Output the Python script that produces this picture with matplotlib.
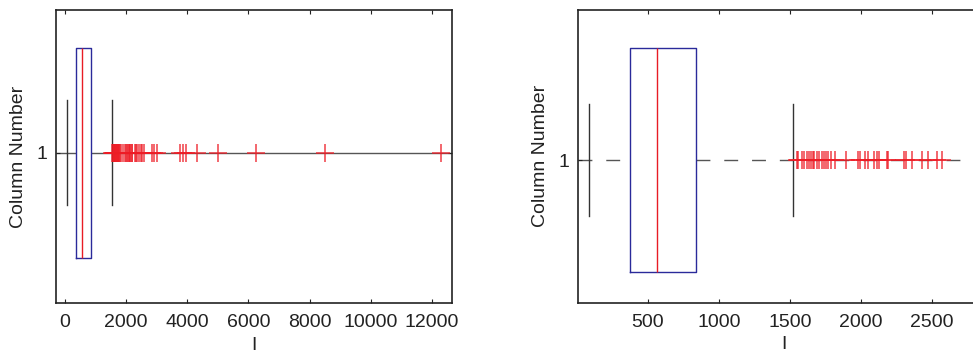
import matplotlib
matplotlib.use('Agg')
import matplotlib.pyplot as plt

plt.rcParams['font.family'] = ['Liberation Sans', 'DejaVu Sans']
plt.rcParams['font.size'] = 14

# box statistics
whis_lo = 82
q1 = 371
med = 566
q3 = 836
whis_hi = 1521

# outliers beyond the upper whisker
out_near = [1547, 1558, 1587, 1601, 1618, 1634, 1646, 1660, 1671, 1688, 1706,
            1723, 1739, 1751, 1770, 1787, 1817, 1894, 1977, 1993, 2028, 2051,
            2092, 2111, 2127, 2181, 2192, 2303, 2315, 2357, 2427, 2474, 2533,
            2568]
out_far = [2835, 2910, 2999, 3761, 3849, 3957, 4307, 4993, 6236, 8512, 12286]

left_ticks = [0, 2000, 4000, 6000, 8000, 10000, 12000]
right_ticks = [500, 1000, 1500, 2000, 2500]

W, H = 973, 353
fig = plt.figure(figsize=(W / 100, H / 100), dpi=100)

ax1 = fig.add_axes([56 / W, 50 / H, 396 / W, 293 / H])
ax2 = fig.add_axes([578 / W, 50.5 / H, 411 / W, 292.4 / H])


def draw(ax, fliers, xlim, ylim, width, capw, ls):
    stats = [dict(whislo=whis_lo, q1=q1, med=med, q3=q3, whishi=whis_hi,
                  fliers=fliers)]
    ax.bxp(stats, positions=[1], widths=width, capwidths=capw,
           orientation='horizontal', showfliers=True,
           boxprops=dict(color='#2a2a9a', lw=1),
           medianprops=dict(color='#e81c24', lw=1),
           whiskerprops=dict(lw=0),
           capprops=dict(color='#333333', lw=1),
           flierprops=dict(marker='+', markeredgecolor='#ee1c25',
                           markersize=13, markeredgewidth=1.1, alpha=0.85,
                           zorder=5))
    ax.hlines([1], xlim[0], q1, colors='#555555', lw=1, linestyles=ls, zorder=1)
    ax.hlines([1], q3, xlim[1], colors='#555555', lw=1, linestyles=ls, zorder=1)
    ax.set_xlim(xlim)
    ax.set_ylim(ylim)
    ax.set_yticks([1])
    ax.set_yticklabels(['1'])
    ax.set_ylabel('Column Number', labelpad=7, color='#222222')
    ax.set_xlabel('I', labelpad=4, color='#222222')
    ax.tick_params(direction='in', length=3, top=True, right=True,
                   colors='#222222', pad=6)
    ax.tick_params(axis='x', pad=8)
    for s in ax.spines.values():
        s.set_linewidth(1.2)
        s.set_color('#222222')


draw(ax1, out_near + out_far, (-294, 12655), (0.487, 1.487), 0.717, 0.36, 'solid')
ax1.set_xticks(left_ticks)
ax1.set_xticklabels([str(t) for t in left_ticks])

draw(ax2, out_near, (7, 2900), (0.514, 1.514), 0.766, 0.383, (0, (10, 10)))
ax2.set_xticks(right_ticks)
ax2.set_xticklabels([str(t) for t in right_ticks])

fig.savefig('out.png', dpi=100)
